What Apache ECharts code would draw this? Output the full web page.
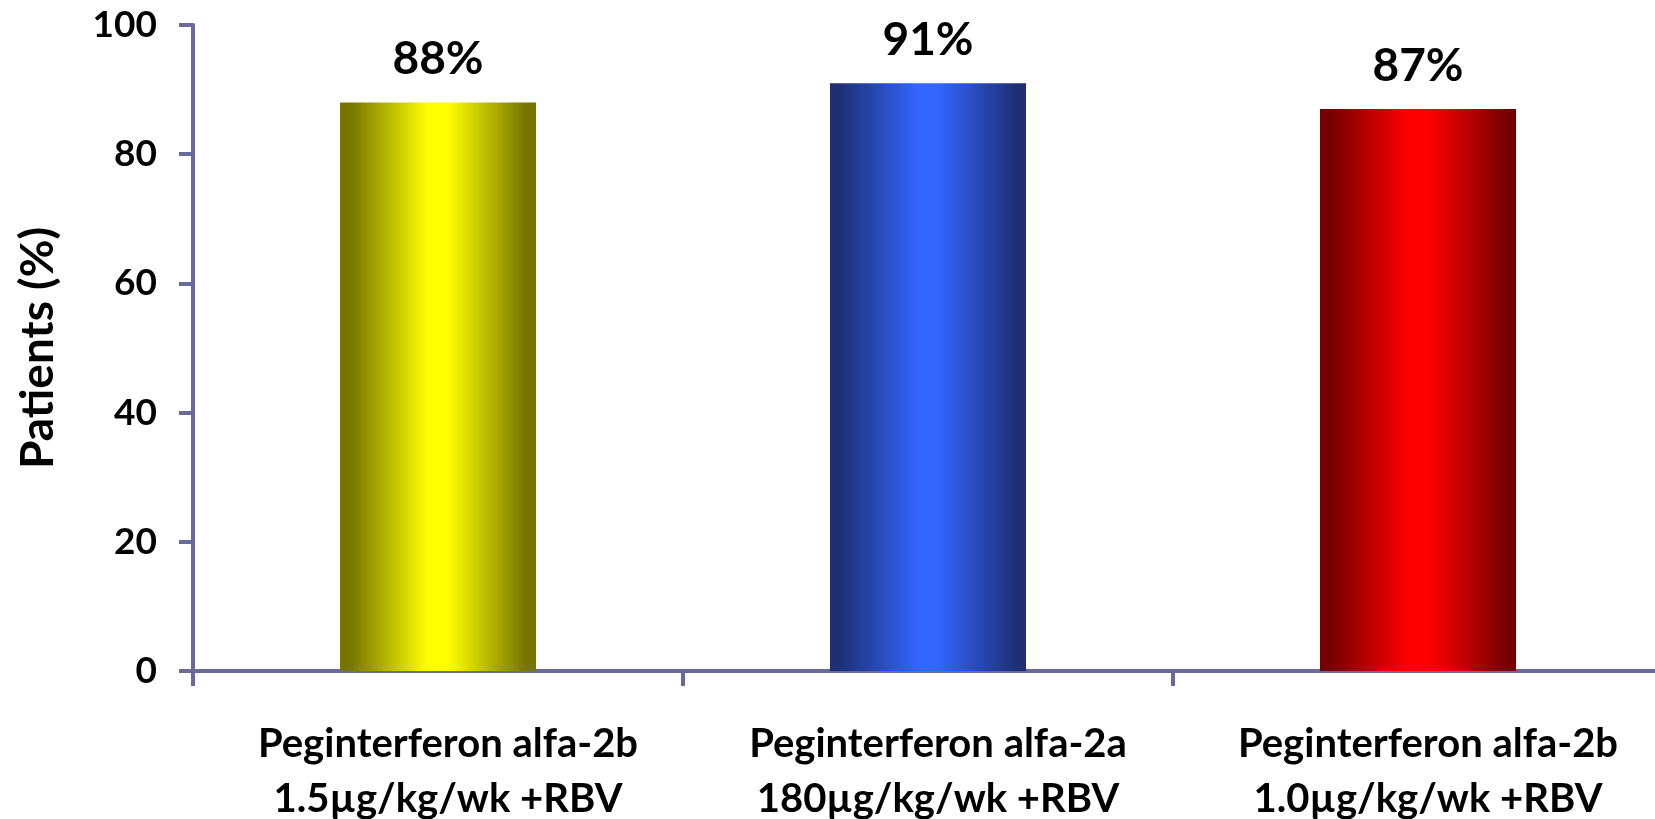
<!DOCTYPE html>
<html>
<head>
<meta charset="utf-8">
<script src="https://cdn.jsdelivr.net/npm/echarts@6/dist/echarts.min.js"></script>
<style>
  html, body { margin: 0; padding: 0; background: #ffffff; }
  #chart { width: 1655px; height: 819px; }
</style>
</head>
<body>
<div id="chart"></div>
<script>
// Treatment arms and the share of patients responding
const categories = [
  'Peginterferon alfa-2b\n1.5µg/kg/wk +RBV',
  'Peginterferon alfa-2a\n180µg/kg/wk +RBV',
  'Peginterferon alfa-2b\n1.0µg/kg/wk +RBV'
];
const values = [88, 91, 87];
const yTicks = [0, 20, 40, 60, 80, 100];

// Bar shading: dark edges, bright centre
const barShades = [
  ['#757500', '#ffff00'],
  ['#1e2f75', '#3366ff'],
  ['#760000', '#ff0000']
];

const FONT = 'Lato, "Open Sans", sans-serif';
const AXIS_COLOR = '#69699b';

function shade(pair) {
  return new echarts.graphic.LinearGradient(0, 0, 1, 0, [
    { offset: 0, color: pair[0] },
    { offset: 0.05, color: pair[0] },
    { offset: 0.45, color: pair[1] },
    { offset: 0.55, color: pair[1] },
    { offset: 0.95, color: pair[0] },
    { offset: 1, color: pair[0] }
  ]);
}

const chart = echarts.init(document.getElementById('chart'), null, { renderer: 'canvas' });

chart.setOption({
  animation: false,
  backgroundColor: '#ffffff',
  grid: {
    left: 193, top: 25, width: 1470, height: 646,
    containLabel: false,
    outerBoundsMode: 'none'
  },
  xAxis: {
    type: 'category',
    data: categories,
    axisLine: { lineStyle: { color: AXIS_COLOR, width: 4 } },
    axisTick: { show: true, length: 15, lineStyle: { color: AXIS_COLOR, width: 4 } },
    axisLabel: {
      margin: 46,
      color: '#000000',
      fontFamily: FONT,
      fontWeight: 'bold',
      fontSize: 40,
      lineHeight: 55,
      padding: [0, 0, 0, 20],
      interval: 0
    },
    splitLine: { show: false }
  },
  yAxis: {
    type: 'value',
    min: yTicks[0],
    max: yTicks[yTicks.length - 1],
    interval: yTicks[1] - yTicks[0],
    name: 'Patients (%)',
    nameLocation: 'middle',
    nameGap: 132,
    nameTextStyle: {
      color: '#000000',
      fontFamily: FONT,
      fontWeight: 'bold',
      fontSize: 46
    },
    axisLine: { show: true, lineStyle: { color: AXIS_COLOR, width: 4 } },
    axisTick: { show: true, length: 14, lineStyle: { color: AXIS_COLOR, width: 4 } },
    axisLabel: {
      margin: 36,
      color: '#000000',
      fontFamily: FONT,
      fontWeight: 'bold',
      fontSize: 37
    },
    splitLine: { show: false }
  },
  series: [{
    type: 'bar',
    barWidth: '40%',
    data: values.map((v, i) => ({
      value: v,
      itemStyle: { color: shade(barShades[i]) }
    })),
    label: {
      show: true,
      position: 'top',
      distance: 20,
      formatter: '{c}%',
      color: '#000000',
      fontFamily: FONT,
      fontWeight: 'bold',
      fontSize: 46
    }
  }]
});
</script>
</body>
</html>
